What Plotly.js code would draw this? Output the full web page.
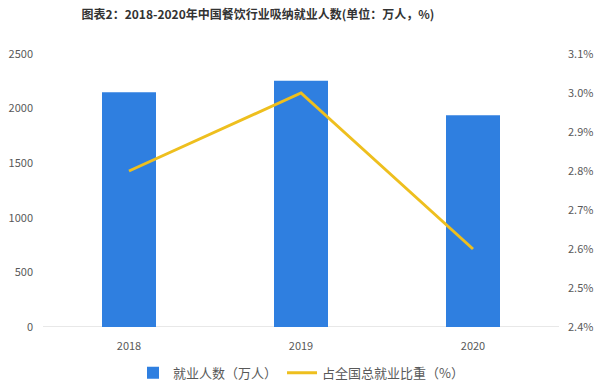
<!DOCTYPE html>
<html>
<head>
<meta charset="utf-8">
<script src="https://cdn.plot.ly/plotly-3.0.1.min.js"></script>
<style>html,body{margin:0;padding:0;background:#fff;}#chart{width:600px;height:384px;}</style>
</head>
<body>
<div id="chart"></div>
<script>
const years = ['2018', '2019', '2020'];
const employment = [2150, 2255, 1940];      // 万人
const shareOfNational = [2.8, 3.0, 2.6];    // %
const barName = '就业人数（万人）';
const lineName = '占全国总就业比重（%）';
const titleText = '图表2：2018-2020年中国餐饮行业吸纳就业人数(单位：万人，%)';
const leftTicks = [0, 500, 1000, 1500, 2000, 2500];
const rightTicks = [2.4, 2.5, 2.6, 2.7, 2.8, 2.9, 3.0, 3.1];

const font = '"Noto Sans CJK SC", "Noto Sans", sans-serif';
const tickColor = '#595959';

const traces = [
  {
    type: 'bar', x: years, y: employment, name: barName,
    marker: {color: '#2F7FE0'}, hoverinfo: 'x+y'
  },
  {
    type: 'scatter', mode: 'lines', x: years, y: shareOfNational, name: lineName,
    yaxis: 'y2', line: {color: '#EEBF1E', width: 3}
  }
];

const layout = {
  width: 600, height: 384,
  margin: {l: 43, r: 41, t: 54, b: 57, autoexpand: false},
  paper_bgcolor: '#fff', plot_bgcolor: '#fff',
  font: {family: font, color: tickColor, size: 11},
  title: {
    text: '<b>' + titleText + '</b>',
    font: {family: font, size: 12, color: '#333333'},
    x: 0.43, xanchor: 'center', y: 0.961, yanchor: 'middle', xref: 'container', yref: 'container'
  },
  bargap: 0.686,
  xaxis: {
    type: 'category', showgrid: false, zeroline: false, showline: false,
    ticks: '', tickfont: {size: 11, color: tickColor}, ticklabelstandoff: 11
  },
  yaxis: {
    range: [0, 2500], tickvals: leftTicks, ticktext: leftTicks.map(String),
    showgrid: false, zeroline: false, showline: false, ticks: '',
    tickfont: {size: 11, color: tickColor}, ticklabelstandoff: 9
  },
  yaxis2: {
    range: [2.4, 3.1], tickvals: rightTicks, ticktext: rightTicks.map(v => v.toFixed(1) + '%'),
    overlaying: 'y', side: 'right', showgrid: false, zeroline: false, showline: false,
    ticks: '', tickfont: {size: 11, color: tickColor}, ticklabelstandoff: 8
  },
  shapes: [
    {type: 'line', xref: 'paper', yref: 'y', x0: 0, x1: 1, y0: 0, y1: 0,
     line: {color: '#D0D0D0', width: 1}, layer: 'below'}
  ],
  legend: {
    orientation: 'h', x: 0.5, xanchor: 'center', y: -0.168, yanchor: 'middle',
    font: {family: font, size: 13, color: tickColor}, itemwidth: 30,
    traceorder: 'normal'
  },
  showlegend: true
};

Plotly.newPlot('chart', traces, layout, {displayModeBar: false, staticPlot: true});
</script>
</body>
</html>
